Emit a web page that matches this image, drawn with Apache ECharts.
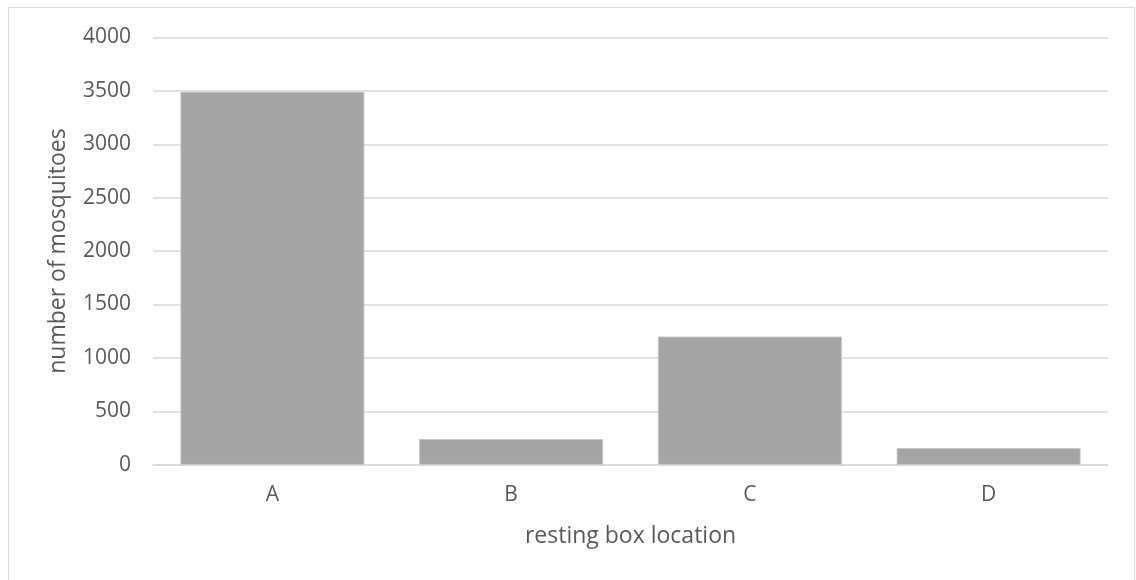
<!DOCTYPE html>
<html>
<head>
<meta charset="utf-8">
<script src="https://cdn.jsdelivr.net/npm/echarts@6/dist/echarts.min.js"></script>
<style>
  html, body { margin: 0; padding: 0; background: #fff; }
  #chart { width: 1136px; height: 580px; }
</style>
</head>
<body>
<div id="chart"></div>
<script>
// Mosquitoes counted per resting box location
const locations = ['A', 'B', 'C', 'D'];
const mosquitoCounts = [3490, 240, 1200, 155];
const yTicks = { min: 0, max: 4000, interval: 500 };

const chart = echarts.init(document.getElementById('chart'), null, { renderer: 'canvas' });
const font = '"Open Sans", "Noto Sans", sans-serif';
const textColor = '#595959';

chart.setOption({
  animation: false,
  backgroundColor: '#ffffff',
  // thin chart-area frame
  graphic: [{
    type: 'rect',
    shape: { x: 8.5, y: 7.5, width: 1126, height: 600 },
    style: { fill: 'none', stroke: '#d9d9d9', lineWidth: 1 },
    silent: true
  }],
  grid: { left: 153, right: 28, top: 37.5, bottom: 115.3, containLabel: false },
  xAxis: {
    type: 'category',
    data: locations,
    name: 'resting box location',
    nameLocation: 'middle',
    nameGap: 60,
    nameTextStyle: { color: textColor, fontSize: 23, fontFamily: font },
    axisLine: { show: true, lineStyle: { color: '#d9d9d9', width: 1.5 } },
    axisTick: { show: false },
    axisLabel: { color: textColor, fontSize: 21, fontFamily: font, margin: 20 }
  },
  yAxis: {
    type: 'value',
    min: yTicks.min,
    max: yTicks.max,
    interval: yTicks.interval,
    name: 'number of mosquitoes',
    nameLocation: 'middle',
    nameRotate: 90,
    nameGap: 83,
    nameTextStyle: { color: textColor, fontSize: 23, fontFamily: font },
    axisLine: { show: false },
    axisTick: { show: false },
    splitLine: { lineStyle: { color: '#d9d9d9', width: 1.5 } },
    axisLabel: {
      color: textColor, fontSize: 21, fontFamily: font, margin: 22,
      formatter: function (v) { return String(v); }
    }
  },
  series: [{
    type: 'bar',
    data: mosquitoCounts,
    barCategoryGap: '23%',
    itemStyle: { color: '#a5a5a5', borderColor: '#c4c4c4', borderWidth: 0.8 }
  }]
});
</script>
</body>
</html>
